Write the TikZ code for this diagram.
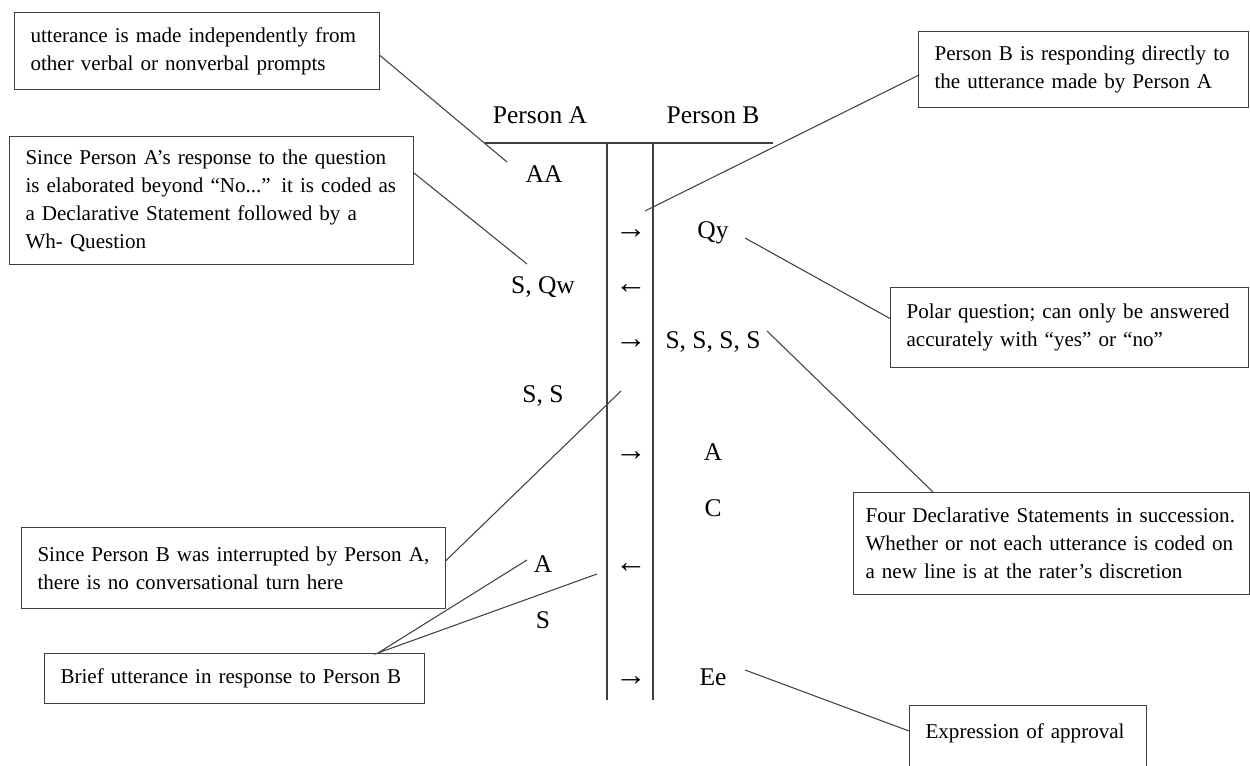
\documentclass[tikz,border=0pt]{standalone}
\usepackage{fontspec}
\setmainfont{Liberation Serif}
\usetikzlibrary{positioning}
\tikzset{
	note/.style={
		draw=black!75,
		line width=0.6pt,
		rectangle,
		anchor=north west,
		align=left,
		inner xsep=0.32cm,
		inner ysep=0pt,
		font=\fontsize{12}{15.9}\selectfont
	},
	code/.style={anchor=base, inner sep=0pt, font=\fontsize{14.5}{17}\selectfont},
	turn/.style={code, font=\fontsize{18}{17}\selectfont},
	leader/.style={draw=black!75, line width=0.6pt}
}
\begin{document}
\begin{tikzpicture}[x=0.02cm, y=-0.02cm]
	\useasboundingbox (0,0) rectangle (1250,766);
	\clip (0,0) rectangle (1250,766);
	% table
	\draw [leader] (485,143) -- (773,143);
	\draw [leader] (607,143) -- (607,700);
	\draw [leader] (653,143) -- (653,700);
	% codes
	\node [code] (persA) at (540,124) {Person A};
	\node [code] (persB) at (713,124) {Person B};
	\node [code] (aa) at (544,183) {AA};
	\node [turn] (ar1) at (631,239) {→};
	\node [code] (qy) at (713,239) {Qy};
	\node [code] (sqw) at (543,294) {S, Qw};
	\node [turn] (ar2) at (631,294) {←};
	\node [turn] (ar3) at (631,349) {→};
	\node [code] (ssss) at (713,349) {S, S, S, S};
	\node [code] (ss) at (543,403) {S, S};
	\node [turn] (ar4) at (631,460) {→};
	\node [code] (bA) at (713,460) {A};
	\node [code] (bC) at (713,516) {C};
	\node [code] (aA) at (543,572) {A};
	\node [turn] (ar5) at (631,572) {←};
	\node [code] (aS) at (543,628) {S};
	\node [turn] (ar6) at (631,685) {→};
	\node [code] (ee) at (713,685) {Ee};
	% notes
	\node [note, text width=6.66cm, minimum height=1.54cm] (indep) at (14,12)
		{utterance is made independently from\\other verbal or nonverbal prompts};
	\node [note, text width=7.44cm, minimum height=2.56cm] (elab) at (9,136)
		{Since Person A’s response to the question\\is elaborated beyond “No...” it is coded as\\a Declarative Statement followed by a\\Wh- Question};
	\node [note, text width=5.96cm, minimum height=1.52cm] (direct) at (918,31)
		{Person B is responding directly to\\the utterance made by Person A};
	\node [note, text width=6.52cm, minimum height=1.6cm] (polar) at (890,287)
		{Polar question; can only be answered\\accurately with “yes” or “no”};
	\node [note, text width=7.44cm, inner xsep=0.24cm, minimum height=2.04cm] (four) at (853,492)
		{\mbox{Four Declarative Statements in succession.}\\Whether or not each utterance is coded on\\a new line is at the rater’s discretion};
	\node [note, text width=7.84cm, minimum height=1.62cm] (interr) at (21,527)
		{Since Person B was interrupted by Person A,\\there is no conversational turn here};
	\node [note, text width=6.96cm, minimum height=1.0cm] (brief) at (44,653)
		{Brief utterance in response to Person B};
	\node [note, text width=4.1cm, inner ysep=0.36cm, text depth=1.2cm] (approv) at (909,705)
		{Expression of approval};
	% leaders
	\coordinate (c1) at (507,162);
	\coordinate (c2) at (527,264);
	\coordinate (c3) at (645,211);
	\coordinate (c4) at (745,238);
	\coordinate (c5) at (767,331);
	\coordinate (c6) at (621,391);
	\coordinate (c7) at (527,560);
	\coordinate (c8) at (597,574);
	\coordinate (c9) at (745,670);
	\draw [leader] ([yshift=-0.09cm]indep.east) -- (c1);
	\draw [leader] ([yshift=-0.74cm]elab.north east) -- (c2);
	\draw [leader] ([yshift=-0.12cm]direct.west) -- (c3);
	\draw [leader] (c4) -- ([yshift=0.18cm]polar.west);
	\draw [leader] (c5) -- ([xshift=1.6cm]four.north west);
	\draw [leader] ([yshift=0.15cm]interr.east) -- (c6);
	\draw [leader] (c7) -- ([xshift=6.68cm]brief.north west) -- (c8);
	\draw [leader] (c9) -- ([yshift=-0.52cm]approv.north west);
\end{tikzpicture}
\end{document}
